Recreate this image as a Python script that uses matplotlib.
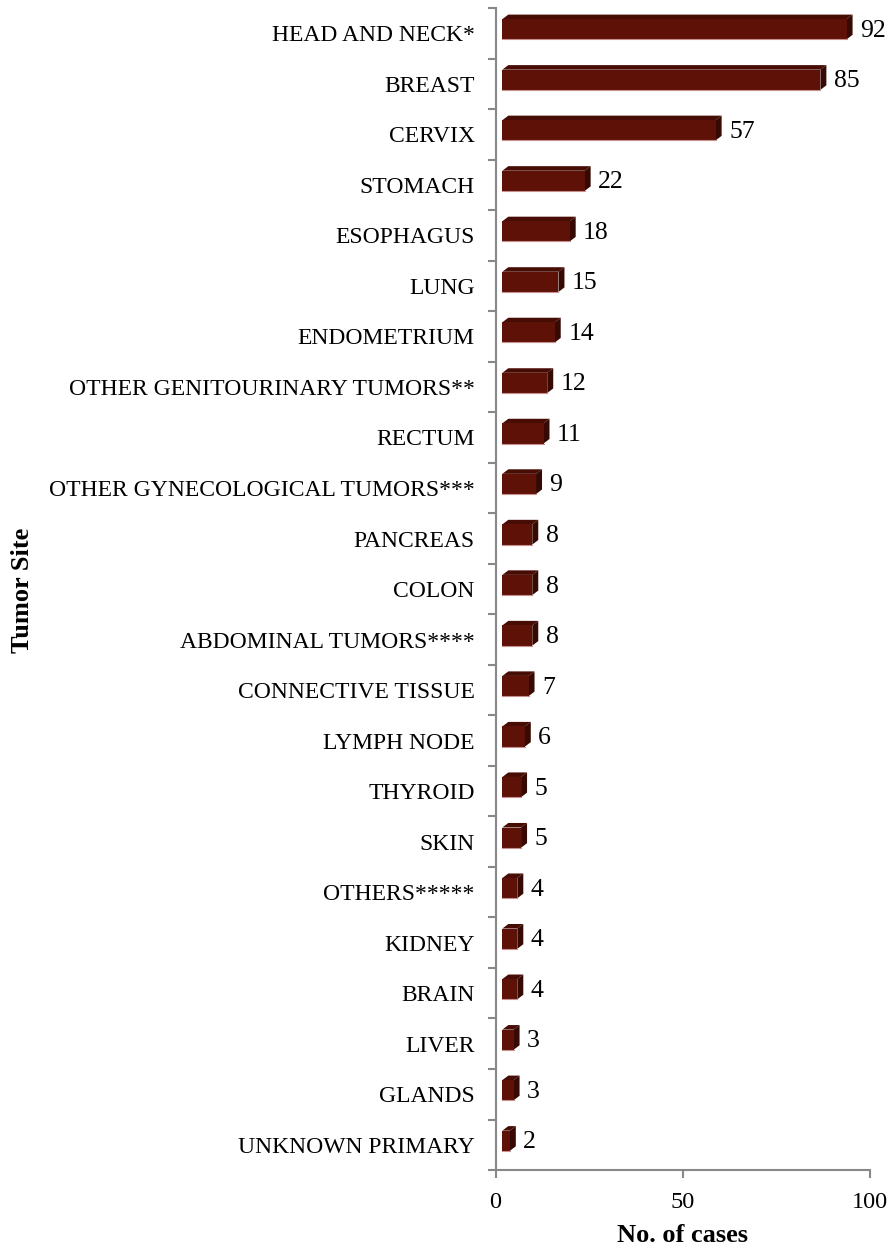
import matplotlib
matplotlib.use('Agg')
import matplotlib.pyplot as plt
from matplotlib.patches import Polygon

sites = ['HEAD AND NECK*', 'BREAST', 'CERVIX', 'STOMACH', 'ESOPHAGUS', 'LUNG',
         'ENDOMETRIUM', 'OTHER GENITOURINARY TUMORS**', 'RECTUM',
         'OTHER GYNECOLOGICAL TUMORS***', 'PANCREAS', 'COLON', 'ABDOMINAL TUMORS****',
         'CONNECTIVE TISSUE', 'LYMPH NODE', 'THYROID', 'SKIN', 'OTHERS*****',
         'KIDNEY', 'BRAIN', 'LIVER', 'GLANDS', 'UNKNOWN PRIMARY']
cases = [92, 85, 57, 22, 18, 15, 14, 12, 11, 9, 8, 8, 8, 7, 6, 5, 5, 4, 4, 4, 3, 3, 2]

plt.rcParams['font.family'] = ['Liberation Serif', 'DejaVu Serif']

fig = plt.figure(figsize=(8.93, 12.53), dpi=100)
ax = fig.add_axes([0.555, 0.0662, 0.419, 0.9274])

front_col = '#5e1106'
top_col = '#470c04'
side_col = '#360903'

# fake 3d bar geometry (data units)
off = 1.8    # front face starts a bit right of the axis
dx = 1.6     # depth to the right
dy = 0.09    # depth upwards
half = 0.2   # half-height of the front face
shift = 0.08 # bars sit slightly above category centre

for i, v in enumerate(cases):
    yc = i - shift
    top = yc - half
    bot = yc + half
    x0 = off
    x1 = off + v
    ax.add_patch(Polygon([(x0, top), (x0 + dx, top - dy), (x1 + dx, top - dy), (x1, top)],
                         closed=True, facecolor=top_col, edgecolor='none'))
    ax.add_patch(Polygon([(x1, top), (x1 + dx, top - dy), (x1 + dx, bot - dy), (x1, bot)],
                         closed=True, facecolor=side_col, edgecolor='none'))
    ax.add_patch(Polygon([(x0, top), (x1, top), (x1, bot), (x0, bot)],
                         closed=True, facecolor=front_col, edgecolor='none'))
    ax.plot([x0, x1], [bot, bot], color='#c89090', lw=0.8)
    ax.text(x1 + dx + 2.0, yc + 0.03, str(v), fontsize=18.5, va='center', ha='left')

ax.set_xlim(0, 100)
ax.set_ylim(len(sites) - 0.5, -0.5)
ax.set_xticks([0, 50, 100])
ax.set_yticks(range(len(sites)))
ax.set_yticklabels(sites, fontsize=17)
ax.set_yticks([k - 0.5 for k in range(len(sites) + 1)], minor=True)
ax.tick_params(axis='y', which='major', length=0, pad=15)
ax.tick_params(axis='y', which='minor', length=6, color='#888888', width=1.5)
ax.tick_params(axis='x', length=6, color='#888888', width=1.5, labelsize=17.5, pad=10)

for s in ['top', 'right']:
    ax.spines[s].set_visible(False)
for s in ['left', 'bottom']:
    ax.spines[s].set_color('#888888')
    ax.spines[s].set_linewidth(1.5)

ax.set_xlabel('No. of cases', fontsize=19, fontweight='bold', labelpad=8)
fig.text(0.025, 0.529, 'Tumor Site', rotation=90, fontsize=19, fontweight='bold',
         va='center', ha='center')

fig.savefig('out.png', dpi=100)
